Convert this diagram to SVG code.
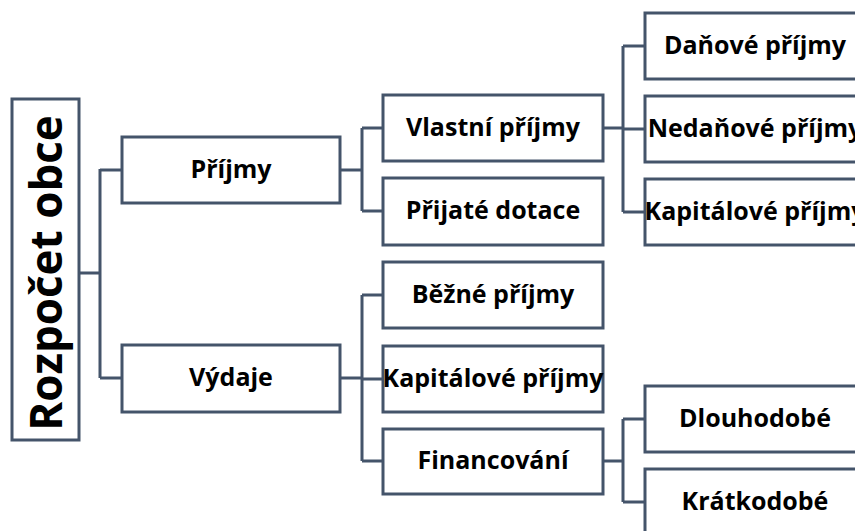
<svg xmlns="http://www.w3.org/2000/svg" width="855" height="531" viewBox="0 0 855 531">
  <style>
    .box { fill: #ffffff; stroke: #44546a; stroke-width: 3; }
    .lbl { font-family: "Open Sans", "Liberation Sans", sans-serif; font-weight: bold; font-size: 25px; fill: #000000; text-anchor: middle; }
    .root { font-size: 44px; }
    .conn { fill: none; stroke: #44546a; stroke-width: 3; }
  </style>
  <rect width="855" height="531" fill="#ffffff"/>

  <!-- connectors -->
  <g id="connectors">
    <path class="conn" d="M79 273 H100 M100 169 V378 M100 170 H122 M100 378 H122"/>
    <path class="conn" d="M340 170 H362 M362 128 V211 M362 128 H383 M362 211 H383"/>
    <path class="conn" d="M603 128 H623 M623 46 V212 M623 46 H645 M623 129 H645 M623 212 H645"/>
    <path class="conn" d="M340 378 H362 M362 295 V461 M362 295 H383 M362 379 H383 M362 461 H383"/>
    <path class="conn" d="M603 461 H623 M623 419 V502 M623 419 H645 M623 502 H645"/>
  </g>

  <!-- root -->
  <g id="rozpocet">
    <rect class="box" x="12" y="99" width="67" height="341"/>
    <text class="lbl root" transform="translate(62 273) rotate(-90)">Rozpočet obce</text>
  </g>

  <!-- level 1 -->
  <g id="prijmy">
    <rect class="box" x="122" y="137" width="218" height="66"/>
    <text class="lbl" x="231" y="178">Příjmy</text>
  </g>
  <g id="vydaje">
    <rect class="box" x="122" y="345" width="218" height="67"/>
    <text class="lbl" x="231" y="386">Výdaje</text>
  </g>

  <!-- level 2: income -->
  <g id="vlastni-prijmy">
    <rect class="box" x="383" y="95" width="220" height="66"/>
    <text class="lbl" x="493" y="136">Vlastní příjmy</text>
  </g>
  <g id="prijate-dotace">
    <rect class="box" x="383" y="178" width="220" height="67"/>
    <text class="lbl" x="493" y="219">Přijaté dotace</text>
  </g>

  <!-- level 2: expenditure -->
  <g id="bezne-prijmy">
    <rect class="box" x="383" y="262" width="220" height="66"/>
    <text class="lbl" x="493" y="303">Běžné příjmy</text>
  </g>
  <g id="kapitalove-prijmy-2">
    <rect class="box" x="383" y="346" width="220" height="66"/>
    <text class="lbl" x="493" y="387">Kapitálové příjmy</text>
  </g>
  <g id="financovani">
    <rect class="box" x="383" y="429" width="220" height="65"/>
    <text class="lbl" x="493" y="469">Financování</text>
  </g>

  <!-- level 3 -->
  <g id="danove-prijmy">
    <rect class="box" x="645" y="13" width="220" height="66"/>
    <text class="lbl" x="755" y="54">Daňové příjmy</text>
  </g>
  <g id="nedanove-prijmy">
    <rect class="box" x="645" y="96" width="220" height="66"/>
    <text class="lbl" x="755" y="137">Nedaňové příjmy</text>
  </g>
  <g id="kapitalove-prijmy-3">
    <rect class="box" x="645" y="179" width="220" height="66"/>
    <text class="lbl" x="755" y="220">Kapitálové příjmy</text>
  </g>
  <g id="dlouhodobe">
    <rect class="box" x="645" y="386" width="220" height="66"/>
    <text class="lbl" x="755" y="427">Dlouhodobé</text>
  </g>
  <g id="kratkodobe">
    <rect class="box" x="645" y="469" width="220" height="66"/>
    <text class="lbl" x="755" y="510">Krátkodobé</text>
  </g>
</svg>
